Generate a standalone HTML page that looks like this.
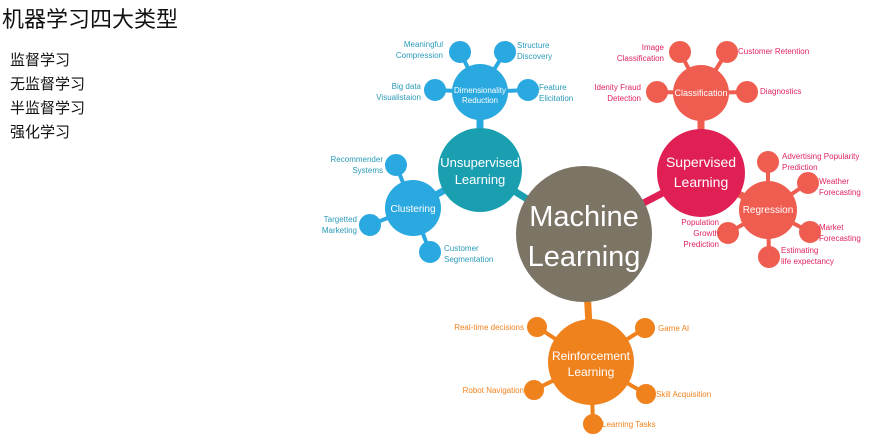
<!DOCTYPE html>
<html><head><meta charset="utf-8"><style>
body{margin:0;background:#fff;width:884px;height:435px;overflow:hidden;font-family:"Liberation Sans","Noto Sans CJK SC",sans-serif}
.t{position:absolute;left:2px;top:2px;font-size:22px;font-weight:normal;color:#111;margin:0}
.l{position:absolute;left:10px;font-size:15px;color:#111}
svg{position:absolute;left:0;top:0}
</style></head><body>
<div class="t">机器学习四大类型</div>
<div class="l" style="top:49px">监督学习</div>
<div class="l" style="top:73px">无监督学习</div>
<div class="l" style="top:97px">半监督学习</div>
<div class="l" style="top:121px">强化学习</div>
<svg width="884" height="435" font-family="Liberation Sans, sans-serif">
<g stroke-width="7">
<line x1="480" y1="170" x2="584" y2="234" stroke="#1a9fb0"/>
<line x1="701" y1="173" x2="584" y2="234" stroke="#e01f55"/>
<line x1="591" y1="362" x2="584" y2="234" stroke="#f0821e"/>
<line x1="480" y1="170" x2="480" y2="92" stroke="#2aa8e0"/>
<line x1="480" y1="170" x2="413" y2="208" stroke="#2aa8e0"/>
<line x1="701" y1="173" x2="701" y2="93" stroke="#ef5d50"/>
<line x1="701" y1="173" x2="768" y2="210" stroke="#ef5d50"/>
</g>
<g stroke="#2aa8e0" stroke-width="4" fill="#2aa8e0">
<line x1="480" y1="92" x2="460" y2="52"/><line x1="480" y1="92" x2="505" y2="52"/><line x1="480" y1="92" x2="435" y2="90"/><line x1="480" y1="92" x2="528" y2="90"/>
<line x1="413" y1="208" x2="396" y2="165"/><line x1="413" y1="208" x2="370" y2="225"/><line x1="413" y1="208" x2="430" y2="252"/>
<circle cx="460" cy="52" r="9"/><circle cx="505" cy="52" r="9"/><circle cx="435" cy="90" r="9"/><circle cx="528" cy="90" r="9"/>
<circle cx="396" cy="165" r="9"/><circle cx="370" cy="225" r="9"/><circle cx="430" cy="252" r="9"/>
<circle cx="480" cy="92" r="28" stroke="none"/><circle cx="413" cy="208" r="28" stroke="none"/>
</g>
<g stroke="#ef5d50" stroke-width="4" fill="#ef5d50">
<line x1="701" y1="93" x2="680" y2="52"/><line x1="701" y1="93" x2="727" y2="52"/><line x1="701" y1="93" x2="657" y2="92"/><line x1="701" y1="93" x2="747" y2="92"/>
<line x1="768" y1="210" x2="768" y2="162"/><line x1="768" y1="210" x2="808" y2="183"/><line x1="768" y1="210" x2="810" y2="232"/><line x1="768" y1="210" x2="728" y2="233"/><line x1="768" y1="210" x2="769" y2="257"/>
<circle cx="680" cy="52" r="9"/><circle cx="727" cy="52" r="9"/><circle cx="657" cy="92" r="9"/><circle cx="747" cy="92" r="9"/>
<circle cx="768" cy="162" r="9"/><circle cx="808" cy="183" r="9"/><circle cx="810" cy="232" r="9"/><circle cx="728" cy="233" r="9"/><circle cx="769" cy="257" r="9"/>
<circle cx="701" cy="93" r="28" stroke="none"/><circle cx="768" cy="210" r="29" stroke="none"/>
</g>
<g stroke="#f0821e" stroke-width="4" fill="#f0821e">
<line x1="591" y1="362" x2="537" y2="327"/><line x1="591" y1="362" x2="645" y2="328"/><line x1="591" y1="362" x2="534" y2="390"/><line x1="591" y1="362" x2="646" y2="394"/><line x1="591" y1="362" x2="593" y2="424"/>
<circle cx="537" cy="327" r="8"/><circle cx="645" cy="328" r="8"/><circle cx="534" cy="390" r="8"/><circle cx="646" cy="394" r="8"/><circle cx="593" cy="424" r="8"/>
<circle cx="591" cy="362" r="43" stroke="none"/>
</g>
<circle cx="480" cy="170" r="42" fill="#1a9fb0"/>
<circle cx="701" cy="173" r="44" fill="#e01f55"/>
<circle cx="584" cy="234" r="68" fill="#7c7465"/>
<g fill="#fff" text-anchor="middle">
<text x="584" y="226" font-size="29">Machine</text>
<text x="584" y="266" font-size="29">Learning</text>
<text x="480" y="167" font-size="13">Unsupervised</text>
<text x="480" y="184" font-size="13">Learning</text>
<text x="701" y="167" font-size="14">Supervised</text>
<text x="701" y="187" font-size="14">Learning</text>
<text x="591" y="360" font-size="12">Reinforcement</text>
<text x="591" y="376" font-size="12">Learning</text>
<text x="480" y="93" font-size="8">Dimensionality</text>
<text x="480" y="103" font-size="8">Reduction</text>
<text x="413" y="212" font-size="10">Clustering</text>
<text x="701" y="96" font-size="9">Classification</text>
<text x="768" y="213" font-size="10">Regression</text>
</g>
<g fill="#2a9ab8" font-size="8">
<text x="443" y="47" text-anchor="end">Meaningful</text><text x="443" y="58" text-anchor="end">Compression</text>
<text x="517" y="48">Structure</text><text x="517" y="59">Discovery</text>
<text x="421" y="89" text-anchor="end">Big data</text><text x="421" y="100" text-anchor="end">Visualistaion</text>
<text x="539" y="90">Feature</text><text x="539" y="101">Elicitation</text>
<text x="383" y="162" text-anchor="end">Recommender</text><text x="383" y="173" text-anchor="end">Systems</text>
<text x="357" y="222" text-anchor="end">Targetted</text><text x="357" y="233" text-anchor="end">Marketing</text>
<text x="444" y="251">Customer</text><text x="444" y="262">Segmentation</text>
</g>
<g fill="#e0245e" font-size="8">
<text x="664" y="50" text-anchor="end">Image</text><text x="664" y="61" text-anchor="end">Classification</text>
<text x="738" y="54">Customer Retention</text>
<text x="641" y="90" text-anchor="end">Idenity Fraud</text><text x="641" y="101" text-anchor="end">Detection</text>
<text x="760" y="94">Diagnostics</text>
<text x="782" y="159">Advertising Popularity</text><text x="782" y="170">Prediction</text>
<text x="819" y="184">Weather</text><text x="819" y="195">Forecasting</text>
<text x="819" y="230">Market</text><text x="819" y="241">Forecasting</text>
<text x="719" y="225" text-anchor="end">Population</text><text x="719" y="236" text-anchor="end">Growth</text><text x="719" y="247" text-anchor="end">Prediction</text>
<text x="781" y="253">Estimating</text><text x="781" y="264">life expectancy</text>
</g>
<g fill="#f0821e" font-size="8">
<text x="524" y="330" text-anchor="end">Real-time decisions</text>
<text x="658" y="331">Game AI</text>
<text x="524" y="393" text-anchor="end">Robot Navigation</text>
<text x="656" y="397">Skill Acquisition</text>
<text x="602" y="427">Learning Tasks</text>
</g>
</svg>
</body></html>
